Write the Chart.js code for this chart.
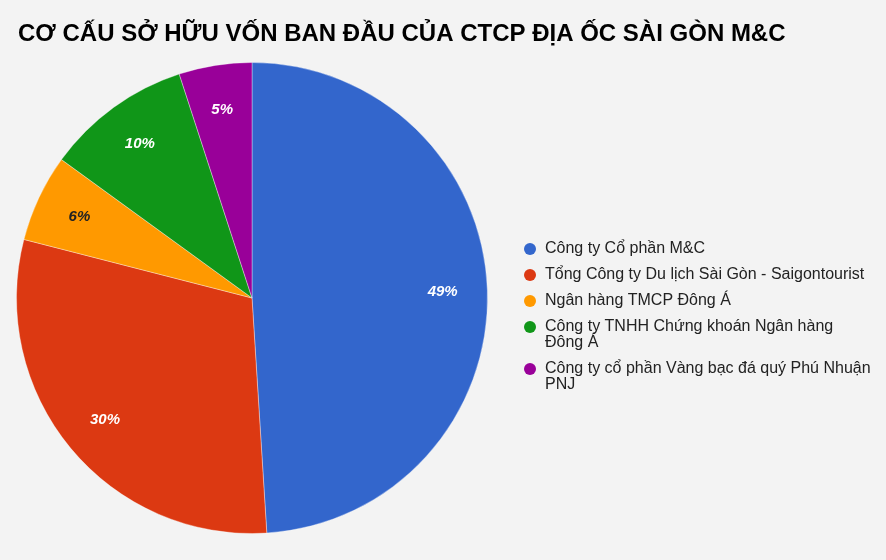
<!DOCTYPE html>
<html>
<head>
<meta charset="utf-8">
<script src="https://cdn.jsdelivr.net/npm/chart.js@4.4.1/dist/chart.umd.min.js"></script>
<style>
  html, body { margin: 0; padding: 0; background: #f3f3f3; }
  #wrap { width: 886px; height: 560px; position: relative; }
</style>
</head>
<body>
<div id="wrap"><canvas id="myChart"></canvas></div>
<script>
var chartTitle = "CƠ CẤU SỞ HỮU VỐN BAN ĐẦU CỦA CTCP ĐỊA ỐC SÀI GÒN M&C";
var owners = [
  "Công ty Cổ phần M&C",
  "Tổng Công ty Du lịch Sài Gòn - Saigontourist",
  "Ngân hàng TMCP Đông Á",
  "Công ty TNHH Chứng khoán Ngân hàng Đông Á",
  "Công ty cổ phần Vàng bạc đá quý Phú Nhuận PNJ",
];
var shares = [49, 30, 6, 10, 5];
var sliceColors = ["#3366cc", "#dc3912", "#ff9900", "#109618", "#990099"];
var labelColors = ["#ffffff", "#ffffff", "#222222", "#ffffff", "#ffffff"];

// wrap a legend line to fit maxWidth
const wrapText = (ctx, text, maxWidth) => {
  var words = text.split(" ");
  var lines = [];
  var line = "";
  for (let i = 0; i < words.length; i++) {
    var test = line ? line + " " + words[i] : words[i];
    if (ctx.measureText(test).width > maxWidth && line) {
      lines.push(line);
      line = words[i];
    } else {
      line = test;
    }
  }
  if (line) lines.push(line);
  return lines;
};

const extrasPlugin = {
  id: "extras",
  afterDatasetsDraw(chart) {
    var ctx = chart.ctx;
    var meta = chart.getDatasetMeta(0);
    var total = shares.reduce((a, b) => a + b, 0);

    // percent labels inside slices
    ctx.save();
    ctx.font = "italic bold 15px 'Liberation Sans', Arial, sans-serif";
    ctx.textAlign = "center";
    ctx.textBaseline = "middle";
    meta.data.forEach((arc, i) => {
      var p = arc.getProps(["x", "y", "startAngle", "endAngle", "outerRadius"], true);
      var mid = (p.startAngle + p.endAngle) / 2;
      var d = p.outerRadius * 0.81;
      ctx.fillStyle = labelColors[i];
      ctx.fillText(Math.round((shares[i] / total) * 100) + "%", p.x + Math.cos(mid) * d, p.y + Math.sin(mid) * d);
    });
    ctx.restore();
  },
  afterDraw(chart) {
    var ctx = chart.ctx;
    ctx.save();
    // title
    ctx.font = "bold 24px 'Liberation Sans', Arial, sans-serif";
    ctx.fillStyle = "#000000";
    ctx.textAlign = "left";
    ctx.textBaseline = "alphabetic";
    ctx.fillText(chartTitle, 18, 41);

    // legend
    ctx.font = "16px 'Liberation Sans', Arial, sans-serif";
    ctx.textBaseline = "middle";
    var rows = owners.map((o) => wrapText(ctx, o, 330));
    var lineH = 16;
    var gap = 10;
    var totalH = 0;
    rows.forEach((r, i) => {
      totalH += r.length * lineH + (i > 0 ? gap : 0);
    });
    var y = 317 - totalH / 2 + lineH / 2;
    rows.forEach((r, i) => {
      ctx.fillStyle = sliceColors[i];
      ctx.beginPath();
      ctx.arc(530, y, 6, 0, Math.PI * 2);
      ctx.fill();
      ctx.fillStyle = "#222222";
      r.forEach((line, j) => {
        ctx.fillText(line, 545, y + j * lineH);
      });
      y += r.length * lineH + gap;
    });
    ctx.restore();
  },
};

var ctx = document.getElementById("myChart").getContext("2d");
let chart = new Chart(ctx, {
  type: "pie",
  data: {
    labels: owners,
    datasets: [
      {
        data: shares,
        backgroundColor: sliceColors,
        borderColor: "rgba(255,255,255,0.35)",
        borderWidth: 1,
      },
    ],
  },
  options: {
    responsive: true,
    maintainAspectRatio: false,
    animation: false,
    layout: {
      padding: { left: 16, right: 398, top: 62, bottom: 26 },
    },
    plugins: {
      legend: { display: false },
      title: { display: false },
      tooltip: { enabled: false },
    },
  },
  plugins: [extrasPlugin],
});
</script>
</body>
</html>
